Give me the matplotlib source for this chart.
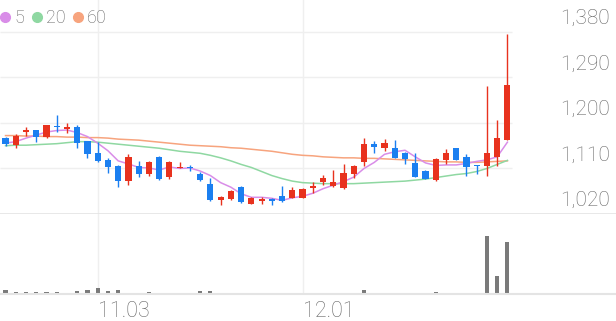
import matplotlib.pyplot as plt
from matplotlib.lines import Line2D
import numpy as np

plt.rcParams["font.family"] = ["Roboto", "DejaVu Sans"]

# daily candles, oldest first (11.03 = index 9, 12.01 = index 29)
opens = [1170, 1156, 1183, 1186, 1172, 1194, 1188, 1191, 1164, 1141,
         1127, 1115, 1085, 1114, 1099, 1133, 1094, 1111, 1113, 1100,
         1079, 1048, 1049, 1074, 1040, 1046, 1050, 1056, 1052, 1052,
         1071, 1083, 1076, 1071, 1100, 1122, 1158, 1150, 1150, 1140,
         1120, 1105, 1087, 1127, 1150, 1133, 1116, 1114, 1133, 1166]
highs = [1172, 1178, 1191, 1187, 1196, 1216, 1199, 1196, 1165, 1163,
         1130, 1116, 1139, 1125, 1125, 1135, 1125, 1122, 1117, 1103,
         1091, 1056, 1068, 1075, 1054, 1053, 1051, 1075, 1074, 1072,
         1083, 1098, 1107, 1118, 1117, 1170, 1164, 1168, 1166, 1143,
         1140, 1106, 1131, 1149, 1151, 1139, 1117, 1273, 1206, 1376]
lows = [1155, 1151, 1174, 1162, 1171, 1183, 1180, 1151, 1130, 1122,
        1102, 1074, 1077, 1094, 1096, 1088, 1089, 1110, 1105, 1085,
        1046, 1038, 1048, 1042, 1039, 1040, 1038, 1044, 1051, 1051,
        1061, 1077, 1074, 1070, 1091, 1114, 1140, 1145, 1130, 1118,
        1093, 1089, 1086, 1118, 1126, 1095, 1100, 1095, 1114, 1166]
closes = [1158, 1174, 1186, 1172, 1195, 1191, 1191, 1161, 1138, 1125,
          1112, 1085, 1133, 1099, 1123, 1090, 1123, 1113, 1110, 1087,
          1048, 1054, 1066, 1043, 1052, 1049, 1045, 1046, 1067, 1070,
          1075, 1091, 1084, 1102, 1115, 1158, 1152, 1161, 1131, 1129,
          1094, 1089, 1129, 1140, 1127, 1112, 1114, 1140, 1170, 1275]

ma5 = [1160, 1163, 1170, 1176, 1182, 1185, 1186, 1181, 1173, 1160,
       1145, 1125, 1119, 1112, 1111, 1107, 1113, 1110, 1111, 1105,
       1096, 1082, 1073, 1060, 1053, 1053, 1051, 1047, 1052, 1055,
       1061, 1070, 1077, 1084, 1093, 1110, 1122, 1138, 1143, 1146,
       1133, 1121, 1116, 1117, 1117, 1120, 1124, 1127, 1133, 1162]
ma20 = [1155, 1156, 1156, 1157, 1158, 1159, 1161, 1163, 1163, 1162,
        1160, 1158, 1156, 1154, 1152, 1150, 1147, 1144, 1142, 1140,
        1136, 1131, 1125, 1118, 1112, 1104, 1096, 1090, 1085, 1082,
        1081, 1080, 1080, 1080, 1080, 1081, 1082, 1083, 1084, 1085,
        1087, 1089, 1092, 1095, 1098, 1100, 1104, 1110, 1118, 1126]
ma60 = [1175, 1175, 1174, 1174, 1173, 1173, 1172, 1172, 1171, 1171,
        1170, 1168, 1167, 1166, 1164, 1162, 1160, 1158, 1156, 1155,
        1154, 1153, 1151, 1150, 1148, 1146, 1144, 1141, 1138, 1136,
        1135, 1133, 1132, 1131, 1131, 1130, 1130, 1129, 1128, 1127,
        1126, 1125, 1124, 1123, 1123, 1122, 1122, 1123, 1124, 1125]

volume = [7, 4, 4, 4, 3.5, 3, 2.5, 6, 6.5, 10,
          5, 7, 1.5, 1.5, 3, 2, 1.5, 1.5, 1.5, 6,
          6, 1.5, 1.5, 1.5, 1.5, 1.5, 1.5, 1.5, 1.5, 1.5,
          1.5, 1.5, 1.5, 2, 2, 7, 1.5, 1.5, 1.5, 1.5,
          1.5, 1.5, 3.5, 1.5, 2, 2, 1.5, 100, 32, 91]

date_ticks = [9, 29]
date_labels = ["11.03", "12.01"]
price_ticks = [1020, 1110, 1200, 1290, 1380]
ma_labels = ["5", "20", "60"]

UP, DOWN = "#e8321e", "#1b7ff0"
MA_COLORS = ["#d98de8", "#8fd8a2", "#f7a47e"]
GRID = "#efefef"
TEXT = "#666666"

fig = plt.figure(figsize=(6.16, 3.21), dpi=100)
fig.patch.set_facecolor("white")
ax = fig.add_axes([0, 107 / 321, 1, 214 / 321])
axv = fig.add_axes([0, 27 / 321, 1, 80 / 321])

x = np.arange(len(closes))
o, h, l, c = map(np.array, (opens, highs, lows, closes))
xlim = (-0.54, 59.6)
last_x = 49.46

# price panel
ax.hlines(price_ticks[1:], xlim[0], last_x, color=GRID, lw=1, zorder=0)
for t in date_ticks:
    ax.axvline(t, color=GRID, lw=1, zorder=0)

for vals, col in zip((ma60, ma20, ma5), MA_COLORS[::-1]):
    ax.plot(x, vals, color=col, lw=1.1, zorder=2)

colors = np.where(c >= o, UP, DOWN)
ax.vlines(x, l, h, colors=colors, lw=1, zorder=3)
ax.bar(x, np.maximum(np.abs(c - o), 1.5), bottom=np.minimum(o, c),
       width=0.6, color=colors, zorder=4)

for p in price_ticks:
    ax.annotate(f"{p:,}", xy=(0.99, p), xycoords=ax.get_yaxis_transform(),
                xytext=(0, 4), textcoords="offset pixels",
                ha="right", va="bottom", fontsize=15, color=TEXT,
                fontweight="light")

handles = [Line2D([], [], ls="", marker="o", ms=7, color=col) for col in MA_COLORS]
ax.legend(handles, ma_labels, loc="upper left", bbox_to_anchor=(0.0, 0.956),
          ncol=3, frameon=False, handlelength=0.6, handletextpad=0.2,
          columnspacing=0.4, borderaxespad=0, borderpad=0,
          labelcolor=TEXT, prop={"weight": "light", "size": 13})

ax.set_xlim(xlim)
ax.set_ylim(1020, 1443)
ax.set_xticks([])
ax.set_yticks([])
for s in ("top", "left", "right"):
    ax.spines[s].set_visible(False)
ax.spines["bottom"].set_color("#e4e4e4")
ax.spines["bottom"].set_linewidth(1.2)

# volume panel
for t in date_ticks:
    axv.axvline(t, color=GRID, lw=1, zorder=0)
axv.bar(x, volume, width=0.4, color="#7a7a7a", zorder=2)
axv.set_xlim(xlim)
axv.set_ylim(0, 139)
axv.set_yticks([])
axv.set_xticks(date_ticks, date_labels)
axv.tick_params(axis="x", length=0, pad=5, labelsize=15.5, labelcolor=TEXT)
for lab in axv.get_xticklabels():
    lab.set_ha("left")
    lab.set_fontweight("light")
for s in ("top", "left", "right"):
    axv.spines[s].set_visible(False)
axv.spines["bottom"].set_color("#e4e4e4")
axv.spines["bottom"].set_linewidth(1.5)

fig.savefig("out.png", dpi=100, facecolor="white")
